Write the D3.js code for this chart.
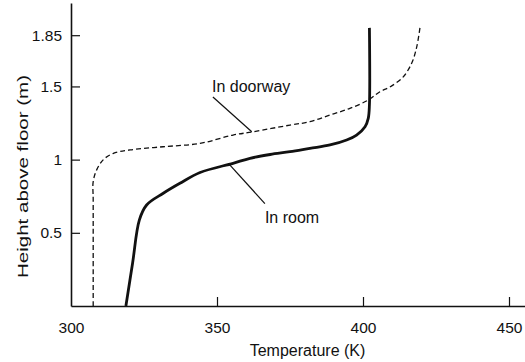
<!DOCTYPE html>
<html><head><meta charset="utf-8">
<script src="https://cdn.jsdelivr.net/npm/d3@7"></script>
<style>
html,body{margin:0;padding:0;background:#fff;}
svg text{font-family:"Liberation Sans",Arial,Helvetica,sans-serif;fill:#111;}
</style></head>
<body><svg id="chart" width="525" height="362"></svg>
<script>
// Temperature (K) and height (m)
const doorwayT = [307.6,307.6,307.6,308.8,311.1,314.5,320.2,331.5,344.2,355.5,362.3,375.0,381.8,388.7,395.5,401.8,405.8,409.2,413.7,416.7,418.4,419.5];
const doorwayH = [0,0.724,0.85,0.93,1.00,1.043,1.066,1.088,1.111,1.168,1.19,1.236,1.259,1.305,1.350,1.407,1.464,1.496,1.564,1.66,1.77,1.90];
const roomT = [318.8,321.1,323.4,325.9,331.6,337.3,344.2,355.5,361.3,368.2,375.0,381.8,388.7,394.4,397.8,400.7,401.8,402.2,402.2];
const roomH = [0,0.294,0.587,0.69,0.77,0.838,0.912,0.975,1.009,1.035,1.054,1.077,1.100,1.134,1.168,1.225,1.282,1.373,1.90];
const xTicks = [300,350,400,450];
const yTicks = [0.5,1,1.5,1.85];
const xTitle = "Temperature (K)";
const yTitle = "Height above floor (m)";
// annotations: label position and leader line ends, in data units
const doorwayLabel = {text:"In doorway", t:348.3, h:1.462, t0:348.6, h0:1.428, t1:361.9, h1:1.19};
const roomLabel = {text:"In room", t:366.4, h:0.567, t0:353.9, h0:0.975, t1:366.4, h1:0.70};

const svg = d3.select("#chart");
const x = d3.scaleLinear().domain([300, 455.48]).range([71, 525]);
const y = d3.scaleLinear().domain([0, 2.07]).range([306, 3]);

const xAxis = d3.axisBottom(x).tickValues(xTicks).tickFormat(d=>d).tickSizeInner(-9).tickSizeOuter(0).tickPadding(16);
const yAxis = d3.axisLeft(y).tickValues(yTicks).tickFormat(d=>d).tickSizeInner(-9).tickSizeOuter(0).tickPadding(9);

const gx = svg.append("g").attr("transform","translate(0,306)").call(xAxis);
const gy = svg.append("g").attr("transform","translate(71,0)").call(yAxis);
[gx,gy].forEach(g=>{
  g.attr("font-size",null).attr("font-family",null);
  g.select(".domain").attr("stroke","#111").attr("stroke-width",1.6);
  g.selectAll(".tick line").attr("stroke","#111").attr("stroke-width",1.2);
  g.selectAll(".tick text").style("font-size","15.5px").attr("fill","#111");
});
gx.selectAll(".tick").filter(d=>d===300).select("line").remove();

svg.append("text").attr("x",307.5).attr("y",356).attr("text-anchor","middle")
  .style("font-size","16px").text(xTitle);
svg.append("text").attr("transform","translate(28,176.5) rotate(-90)")
  .attr("text-anchor","middle").style("font-size","15.5px")
  .attr("textLength",203).attr("lengthAdjust","spacingAndGlyphs").text(yTitle);

const line = d3.line().x(d=>x(d[0])).y(d=>y(d[1])).curve(d3.curveCatmullRom.alpha(0.5));
const doorway = doorwayT.map((t,i)=>[t,doorwayH[i]]);
const room = roomT.map((t,i)=>[t,roomH[i]]);

svg.append("path").attr("d",line(doorway)).attr("fill","none")
  .attr("stroke","#111").attr("stroke-width",1.3).attr("stroke-dasharray","5,3");
svg.append("path").attr("d",line(room)).attr("fill","none")
  .attr("stroke","#111").attr("stroke-width",2.8).attr("stroke-linejoin","round");

[doorwayLabel, roomLabel].forEach(a=>{
  svg.append("line").attr("x1",x(a.t0)).attr("y1",y(a.h0)).attr("x2",x(a.t1)).attr("y2",y(a.h1))
    .attr("stroke","#111").attr("stroke-width",1.2);
  svg.append("text").attr("x",x(a.t)).attr("y",y(a.h)).style("font-size","16px").text(a.text);
});
</script></body></html>
